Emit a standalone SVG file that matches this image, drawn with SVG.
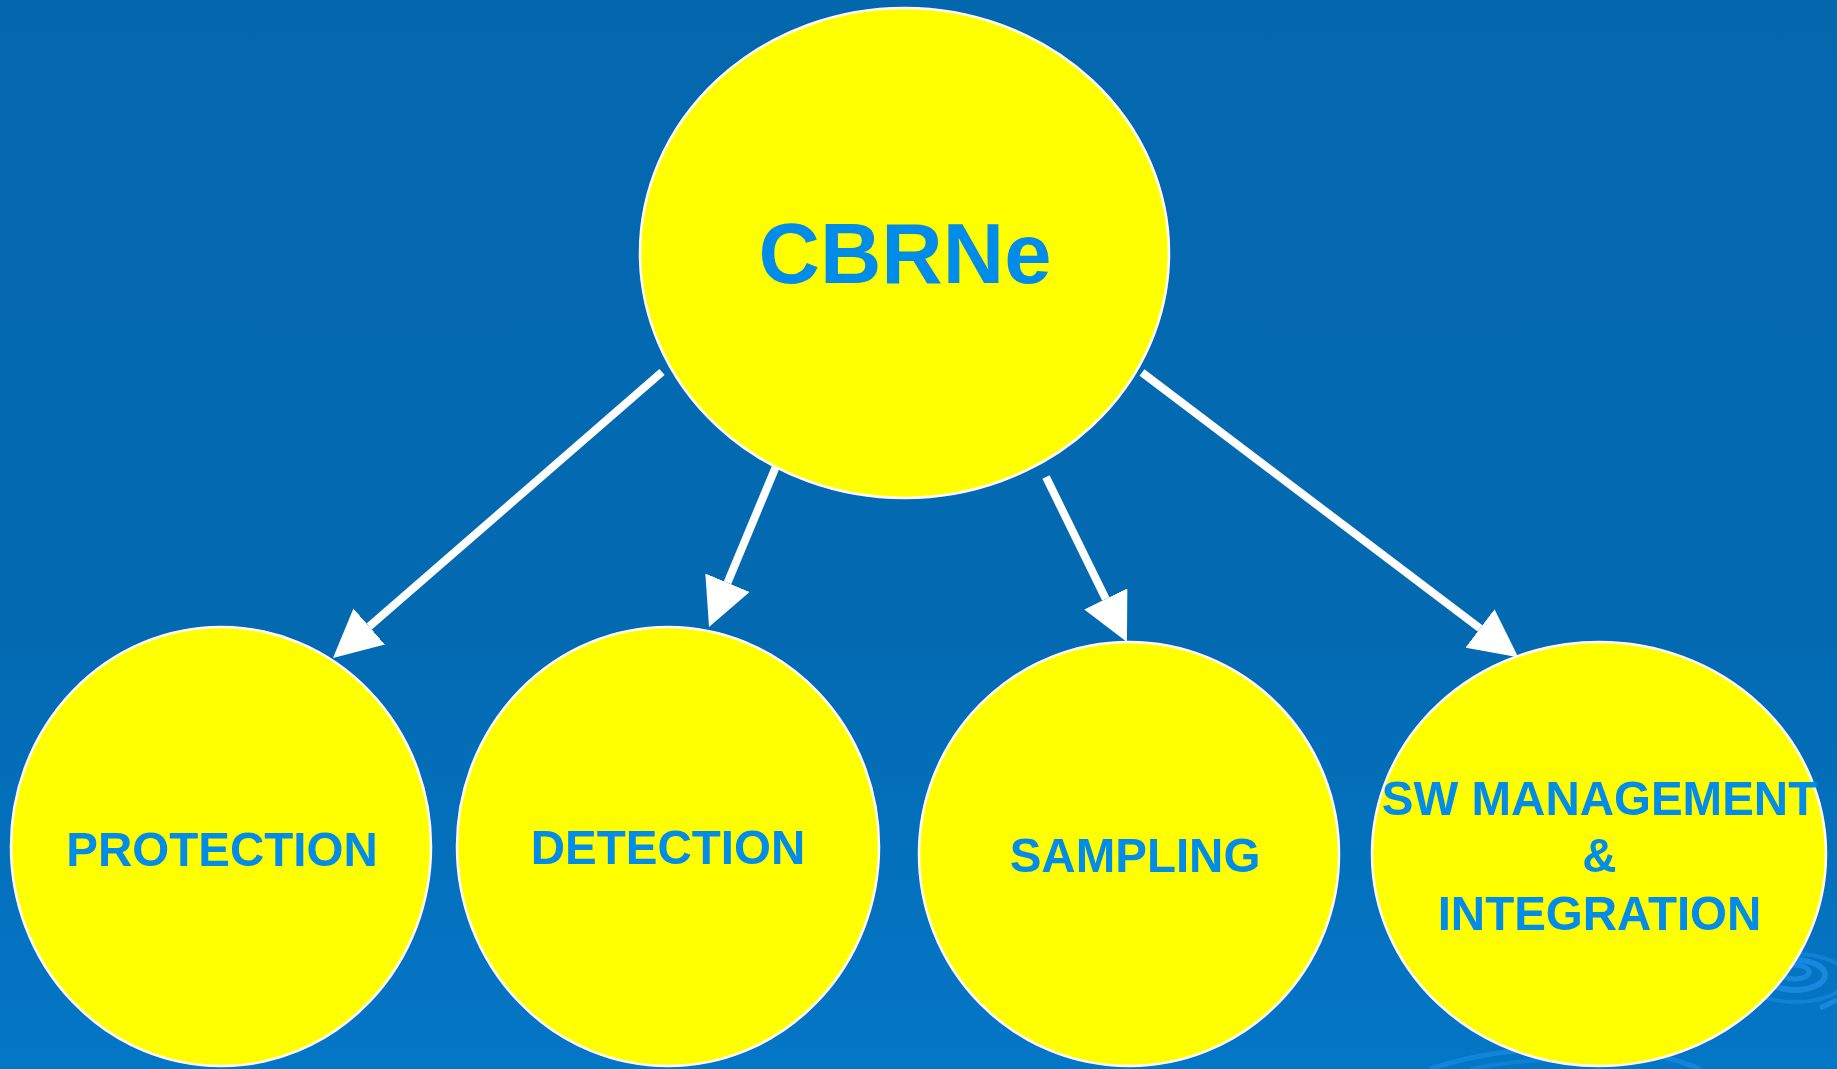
<svg xmlns="http://www.w3.org/2000/svg" width="1837" height="1069" viewBox="0 0 1837 1069">
  <defs>
    <linearGradient id="bg" x1="0" y1="0" x2="0" y2="1">
      <stop offset="0" stop-color="#0367ae"/>
      <stop offset="0.6" stop-color="#036aB2"/>
      <stop offset="1" stop-color="#0476c6"/>
    </linearGradient>
    <marker id="head" markerWidth="6" markerHeight="6" refX="0" refY="3" orient="auto" markerUnits="strokeWidth">
      <path d="M0,0 L6,3 L0,6 z" fill="#ffffff"/>
    </marker>
    <style>
      .node { fill: #ffff00; stroke: #ffffff; stroke-width: 2.5; }
      .lbl { font-family: "Liberation Sans", Arial, sans-serif; font-weight: bold; fill: #008ce8; text-anchor: middle; }
      .conn { stroke: #ffffff; stroke-width: 8; fill: none; marker-end: url(#head); }
      .rip { fill: none; stroke: #1e8fe6; }
    </style>
  </defs>

  <rect x="0" y="0" width="1837" height="1069" fill="url(#bg)"/>

  <g id="decoration" opacity="0.75">
    <ellipse class="rip" cx="1795" cy="972" rx="14" ry="7" stroke-width="5"/>
    <ellipse class="rip" cx="1795" cy="975" rx="30" ry="15" stroke-width="6"/>
    <ellipse class="rip" cx="1795" cy="978" rx="52" ry="24" stroke-width="4" opacity="0.7"/>
    <path class="rip" d="M1820,1008 L1837,1000" stroke-width="5"/>
    <path class="rip" d="M1430,1069 Q1500,1045 1600,1048 Q1660,1052 1700,1069" stroke-width="5" opacity="0.8"/>
    <path class="rip" d="M1470,1069 Q1540,1055 1620,1060" stroke-width="4" opacity="0.6"/>
  </g>

  <g id="connectors">
    <line class="conn" x1="662" y1="372" x2="369.2" y2="626.5"/>
    <line class="conn" x1="777" y1="464" x2="727.5" y2="582.7"/>
    <line class="conn" x1="1046" y1="477" x2="1105.8" y2="598.9"/>
    <line class="conn" x1="1142" y1="372.5" x2="1480" y2="628.4"/>
  </g>

  <g id="cbrne">
    <ellipse class="node" cx="904.5" cy="253" rx="264.5" ry="245"/>
    <text class="lbl" x="905" y="283" font-size="85">CBRNe</text>
  </g>

  <g id="protection">
    <ellipse class="node" cx="221" cy="846.5" rx="210" ry="219.5"/>
    <text class="lbl" x="222" y="866" font-size="47.5">PROTECTION</text>
  </g>

  <g id="detection">
    <ellipse class="node" cx="668" cy="846.5" rx="211" ry="219.5"/>
    <text class="lbl" x="668" y="864" font-size="47.5">DETECTION</text>
  </g>

  <g id="sampling">
    <ellipse class="node" cx="1129" cy="854" rx="210" ry="212"/>
    <text class="lbl" x="1135" y="872" font-size="47.5">SAMPLING</text>
  </g>

  <g id="sw-management">
    <ellipse class="node" cx="1599" cy="854" rx="227" ry="212"/>
    <text class="lbl" x="1599.5" y="815" font-size="47.5">SW MANAGEMENT</text>
    <text class="lbl" x="1599.5" y="872" font-size="47.5">&amp;</text>
    <text class="lbl" x="1599.5" y="930" font-size="47.5">INTEGRATION</text>
  </g>
</svg>
